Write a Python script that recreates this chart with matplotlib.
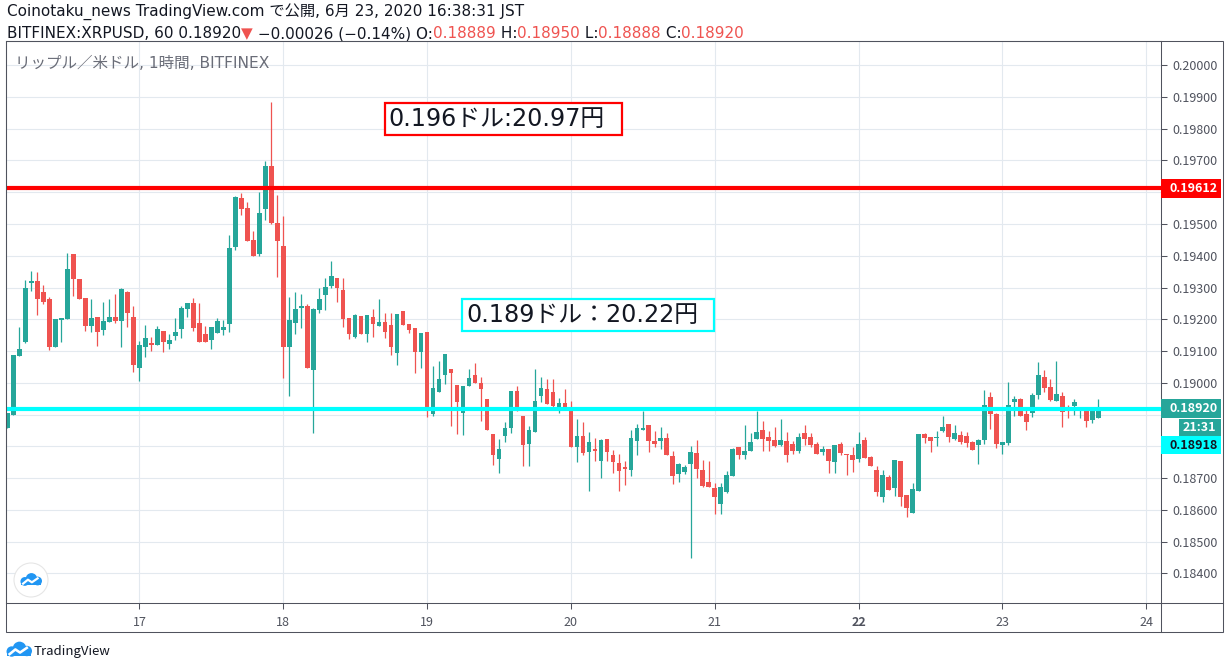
import matplotlib
matplotlib.use('Agg')
import matplotlib.pyplot as plt
import numpy as np
from matplotlib.patches import Rectangle, Circle
from matplotlib.lines import Line2D

plt.rcParams['font.family'] = ['Noto Sans CJK JP', 'DejaVu Sans']
WIDE = ['DejaVu Sans', 'Noto Sans CJK JP']   # wider latin, CJK glyphs from Noto

# XRPUSD 1h candles (BITFINEX), first one 16 Jun 02:00, last one 23 Jun 16:00
start_hour = 2   # hours since 16 Jun 00:00

opens = [
    .18857, .18900, .19085, .19129, .19315, .19320, .19285, .19264, .19114, .19198,
    .19201, .19407, .19326, .19267, .19179, .19207, .19167, .19192, .19207, .19195,
    .19285, .19207, .19048, .19114, .19126, .19120, .19164, .19123, .19148, .19170,
    .19232, .19251, .19189, .19154, .19136, .19157, .19167, .19185, .19429, .19582,
    .19551, .19451, .19404, .19548, .19682, .19504, .19432, .19114, .19189, .19235,
    .19242, .19039, .19229, .19276, .19304, .19329, .19292, .19204, .19145, .19210,
    .19154, .19207, .19179, .19192, .19182, .19095, .19226, .19184, .19173, .19097,
    .19160, .18902, .18970, .19024, .19045, .18994, .18904, .18989, .19026, .19001,
    .18950, .18839, .18760, .18834, .18857, .18975, .18897, .18807, .18845, .18958,
    .18981, .18972, .18925, .18937, .18921, .18797, .18834, .18781, .18793, .18753,
    .18824, .18774, .18749, .18736, .18725, .18816, .18852, .18868, .18818, .18816,
    .18827, .18771, .18712, .18718, .18743, .18780, .18727, .18689, .18670, .18618,
    .18655, .18708, .18799, .18772, .18784, .18824, .18852, .18830, .18819, .18804,
    .18816, .18806, .18785, .18841, .18828, .18806, .18782, .18791, .18751, .18806,
    .18776, .18773, .18760, .18819, .18766, .18725, .18641, .18703, .18669, .18753,
    .18646, .18591, .18660, .18838, .18828, .18826, .18847, .18869, .18822, .18835,
    .18832, .18813, .18805, .18820, .18954, .18901, .18805, .18811, .18939, .18948,
    .18901, .18905, .18961, .19017, .18986, .18942, .18958, .18914, .18926, .18916,
    .18910, .18883, .18889,
]
highs = [
    .18904, .19089, .19176, .19323, .19351, .19348, .19307, .19270, .19201, .19204,
    .19410, .19407, .19326, .19267, .19264, .19207, .19254, .19264, .19279, .19298,
    .19289, .19242, .19132, .19182, .19145, .19179, .19164, .19154, .19204, .19242,
    .19251, .19267, .19251, .19179, .19176, .19204, .19198, .19464, .19589, .19598,
    .19570, .19479, .19601, .19698, .19885, .19592, .19526, .19270, .19285, .19279,
    .19248, .19235, .19298, .19329, .19382, .19329, .19329, .19204, .19217, .19210,
    .19214, .19232, .19264, .19220, .19220, .19216, .19226, .19184, .19173, .19156,
    .19160, .19054, .19070, .19092, .19045, .18994, .18990, .19043, .19061, .19017,
    .18950, .18839, .18824, .18876, .18975, .18991, .18897, .18865, .19043, .19019,
    .19012, .19012, .18951, .18981, .18944, .18886, .18877, .18846, .18827, .18824,
    .18824, .18790, .18777, .18755, .18852, .18871, .18912, .18868, .18849, .18862,
    .18843, .18786, .18749, .18740, .18802, .18821, .18758, .18753, .18686, .18686,
    .18724, .18796, .18799, .18868, .18843, .18912, .18881, .18849, .18860, .18885,
    .18844, .18816, .18841, .18866, .18841, .18813, .18800, .18791, .18803, .18813,
    .18776, .18797, .18844, .18831, .18770, .18738, .18725, .18709, .18756, .18753,
    .18646, .18684, .18838, .18841, .18828, .18847, .18897, .18869, .18866, .18847,
    .18845, .18816, .18823, .18976, .18970, .18905, .18813, .19002, .18958, .18951,
    .18914, .18967, .19064, .19039, .19011, .19068, .18970, .18929, .18948, .18919,
    .18914, .18918, .18950,
]
lows = [
    .18857, .18900, .19085, .19126, .19289, .19214, .19248, .19104, .19114, .19129,
    .19201, .19273, .19264, .19164, .19160, .19117, .19151, .19192, .19189, .19114,
    .19176, .19035, .19007, .19082, .19101, .19120, .19098, .19107, .19135, .19142,
    .19207, .19164, .19127, .19127, .19108, .19157, .19151, .19160, .19417, .19529,
    .19448, .19398, .19398, .19514, .19501, .19332, .19014, .18957, .19154, .19173,
    .19048, .18842, .19220, .19229, .19298, .19254, .19176, .19139, .19142, .19154,
    .19129, .19145, .19179, .19142, .19089, .19057, .19181, .19156, .19032, .19046,
    .18894, .18895, .18970, .18996, .18865, .18839, .18836, .18989, .19001, .18881,
    .18850, .18742, .18716, .18813, .18842, .18910, .18738, .18738, .18845, .18939,
    .18934, .18918, .18905, .18913, .18797, .18752, .18774, .18661, .18755, .18699,
    .18753, .18715, .18659, .18677, .18706, .18772, .18852, .18781, .18797, .18791,
    .18772, .18680, .18687, .18712, .18448, .18699, .18671, .18671, .18586, .18586,
    .18652, .18708, .18759, .18759, .18784, .18824, .18784, .18784, .18798, .18801,
    .18751, .18776, .18779, .18803, .18798, .18776, .18773, .18716, .18716, .18773,
    .18710, .18719, .18751, .18763, .18738, .18644, .18625, .18663, .18644, .18613,
    .18578, .18591, .18660, .18810, .18782, .18801, .18844, .18813, .18819, .18807,
    .18798, .18789, .18745, .18808, .18855, .18795, .18776, .18805, .18896, .18896,
    .18851, .18893, .18948, .18970, .18942, .18942, .18861, .18890, .18899, .18890,
    .18861, .18874, .18888,
]
closes = [
    .18904, .19089, .19107, .19298, .19320, .19264, .19254, .19114, .19201, .19204,
    .19357, .19326, .19264, .19179, .19204, .19160, .19195, .19207, .19195, .19295,
    .19220, .19057, .19120, .19142, .19120, .19170, .19129, .19135, .19160, .19235,
    .19251, .19173, .19130, .19130, .19176, .19195, .19176, .19423, .19585, .19548,
    .19448, .19398, .19535, .19682, .19504, .19445, .19114, .19198, .19232, .19242,
    .19048, .19232, .19264, .19301, .19335, .19298, .19201, .19154, .19214, .19154,
    .19214, .19185, .19192, .19160, .19114, .19216, .19181, .19166, .19097, .19156,
    .18913, .18984, .19013, .19092, .19030, .18939, .18990, .19015, .19001, .18980,
    .18850, .18772, .18792, .18859, .18975, .18913, .18803, .18852, .18944, .18984,
    .18934, .18928, .18937, .18923, .18797, .18832, .18778, .18815, .18784, .18821,
    .18781, .18750, .18721, .18728, .18827, .18859, .18859, .18816, .18808, .18827,
    .18772, .18708, .18746, .18736, .18783, .18728, .18674, .18671, .18640, .18673,
    .18711, .18793, .18774, .18786, .18815, .18846, .18824, .18818, .18801, .18819,
    .18773, .18785, .18828, .18822, .18804, .18776, .18791, .18754, .18803, .18779,
    .18773, .18757, .18806, .18763, .18738, .18657, .18709, .18663, .18756, .18641,
    .18606, .18665, .18838, .18826, .18816, .18831, .18860, .18831, .18841, .18813,
    .18811, .18789, .18819, .18929, .18902, .18808, .18813, .18929, .18948, .18896,
    .18876, .18961, .19024, .18983, .18945, .18964, .18907, .18910, .18939, .18919,
    .18880, .18914, .18920,
]

day_ticks = [24, 48, 72, 96, 120, 144, 168, 192]
day_labels = ['17', '18', '19', '20', '21', '22', '23', '24']
price_ticks = [0.184, 0.185, 0.186, 0.187, 0.188, 0.189, 0.190, 0.191, 0.192,
               0.193, 0.194, 0.195, 0.196, 0.197, 0.198, 0.199, 0.200]
hidden_ticks = [0.188, 0.189, 0.196]   # covered by the price tags

resist = 0.19612
support = 0.18918
last_price = 0.18920
countdown = '21:31'

notes = ['0.196ドル:20.97円', '0.189ドル：20.22円']

title1 = 'Coinotaku_news TradingView.com で公開, 6月 23, 2020 16:38:31 JST'
title2 = [('BITFINEX:XRPUSD, 60 0.18920', 'k'), ('▼', 'r'), (' −0.00026 (−0.14%) O:', 'k'),
          ('0.18889', 'r'), (' H:', 'k'), ('0.18950', 'r'), (' L:', 'k'), ('0.18888', 'r'),
          (' C:', 'k'), ('0.18920', 'r')]
chart_name = 'リップル／米ドル, 1時間, BITFINEX'

# ---- style ----
UP = '#26a69a'
DOWN = '#ef5350'
TXT = '#131722'
AXC = '#50535e'
GRID = '#e3e9ef'

W, H = 1230, 669
fig = plt.figure(figsize=(W / 100, H / 100), dpi=100)


def fx(px):
    return px / W


def fy(py):
    return 1 - py / H


ax = fig.add_axes([fx(6.3), fy(603.3), fx(1161.3) - fx(6.3), fy(41) - fy(603.3)])
ax.set_xlim(1.8, 194.5)
ax.set_ylim(0.18306, 0.20076)

o = np.array(opens)
h = np.array(highs)
l = np.array(lows)
c = np.array(closes)
hours = np.arange(len(o)) + start_hour
cols = np.where(c >= o, UP, DOWN)

ax.vlines(hours, l, h, colors=cols, lw=0.9, zorder=3)
ax.bar(hours, np.maximum(np.abs(c - o), 0.00002), bottom=np.minimum(o, c),
       width=0.78, color=cols, lw=0, zorder=4)

ax.axhline(resist, color='#ff0000', lw=3, zorder=6)
ax.axhline(support, color='#00ffff', lw=3, zorder=6)

# note boxes (hour left, hour right, price bottom, price top)
note_boxes = [(65.0, 104.6, 0.19780, 0.19881, '#ff0000'),
              (77.9, 119.9, 0.19162, 0.19263, '#00ffff')]
for txt, (x0, x1, y0, y1, ec) in zip(notes, note_boxes):
    ax.add_patch(Rectangle((x0, y0), x1 - x0, y1 - y0, fill=True, fc='white',
                           ec=ec, lw=1.6, zorder=7))
    ax.text(x0 + 0.6, (y0 + y1) / 2, txt, fontsize=17.2, color='#131722', family=WIDE,
            va='center', ha='left', zorder=8)

# axes styling
ax.set_xticks(day_ticks)
ax.set_xticklabels(day_labels)
ax.get_xticklabels()[5].set_fontweight('bold')
ax.yaxis.tick_right()
ax.set_yticks(price_ticks)
ax.set_yticklabels(['' if p in hidden_ticks else '%.5f' % p for p in price_ticks])
ax.tick_params(axis='y', direction='out', length=4, width=0.75, color=AXC,
               labelcolor=AXC, labelsize=9, pad=4)
ax.tick_params(axis='x', direction='out', length=4, width=0.75, color=AXC,
               labelcolor=AXC, labelsize=9, pad=5)
ax.grid(True, color=GRID, lw=0.8)
ax.set_axisbelow(True)
for s in ax.spines.values():
    s.set_color(AXC)
    s.set_linewidth(0.75)

# outer frame around price and date scales
fig.add_artist(Rectangle((fx(6.3), fy(632.3)), fx(1223.3) - fx(6.3), fy(41) - fy(632.3),
                         transform=fig.transFigure, fill=False, ec=AXC, lw=0.75))
fig.add_artist(Line2D([fx(1161.3)] * 2, [fy(603.3), fy(632.3)], color=AXC, lw=0.75))
fig.add_artist(Line2D([fx(1161.3), fx(1223.3)], [fy(603.3)] * 2, color=AXC, lw=0.75))


def price_py(p):
    return H - ax.transData.transform((0, p))[1]


def tag(py, x0, x1, hh, fc, txt, tc, tx):
    fig.add_artist(Rectangle((fx(x0), fy(py + hh / 2)), fx(x1) - fx(x0), hh / H,
                             transform=fig.transFigure, fc=fc, ec='none', zorder=5))
    fig.text(fx(tx), fy(py), txt, color=tc, fontsize=9, fontweight='bold',
             va='center', ha='left', zorder=6)


yr = price_py(resist)
tag(yr, 1161.3, 1221, 19, '#ff0000', '%.5f' % resist, 'white', 1170)
yl = price_py(last_price)
tag(yl, 1161.3, 1221, 19, UP, '%.5f' % last_price, 'white', 1170)
tag(yl + 19, 1179.3, 1221, 17, UP, countdown, 'white', 1183)
tag(yl + 37, 1161.3, 1221, 18, '#00ffff', '%.5f' % support, TXT, 1170)

# header texts
fig.text(fx(7), fy(12), title1, fontsize=11, color=TXT, family=WIDE, va='center', ha='left')
t = fig.text(fx(7), fy(41.5), title2[0][0], fontsize=11, color=TXT, family=WIDE,
             va='bottom', ha='left')
for s, cc in title2[1:]:
    col = DOWN if cc == 'r' else TXT
    t = ax.annotate(s, xy=(1, 0), xycoords=t, va='bottom', ha='left', fontsize=11,
                    family=WIDE, color=col, annotation_clip=False)
fig.text(fx(15), fy(63), chart_name, fontsize=11.2, color='#6a6d78', family=WIDE,
         va='center', ha='left')


# TradingView logos
def cloud(cx, cy, w):
    tr = fig.dpi_scale_trans
    blue = '#2196f3'
    s = w / 100.0
    X, Y = cx / 100.0, (H - cy) / 100.0
    for dx, dy, r in [(-0.28, -0.02, 0.2), (0.02, 0.1, 0.26), (0.3, 0.0, 0.2)]:
        fig.add_artist(Circle((X + dx * s, Y + dy * s), r * s, transform=tr, fc=blue, ec='none'))
    fig.add_artist(Rectangle((X - 0.45 * s, Y - 0.2 * s), 0.92 * s, 0.2 * s,
                             transform=tr, fc=blue, ec='none'))
    zx = [X - 0.36 * s, X - 0.14 * s, X + 0.04 * s, X + 0.3 * s]
    zy = [Y - 0.12 * s, Y + 0.06 * s, Y - 0.06 * s, Y + 0.12 * s]
    fig.add_artist(Line2D(zx, zy, transform=tr, color='white', lw=w / 14))


fig.add_artist(Circle((31 / 100, (H - 580) / 100), 0.17, transform=fig.dpi_scale_trans,
                      fc='white', ec='#e6e6e6', lw=0.8))
cloud(31, 581, 22)
cloud(19, 651, 26)
fig.text(fx(34), fy(651), 'TradingView', fontsize=9.5, color=TXT, va='center', ha='left')

fig.savefig('out.png', dpi=100)
